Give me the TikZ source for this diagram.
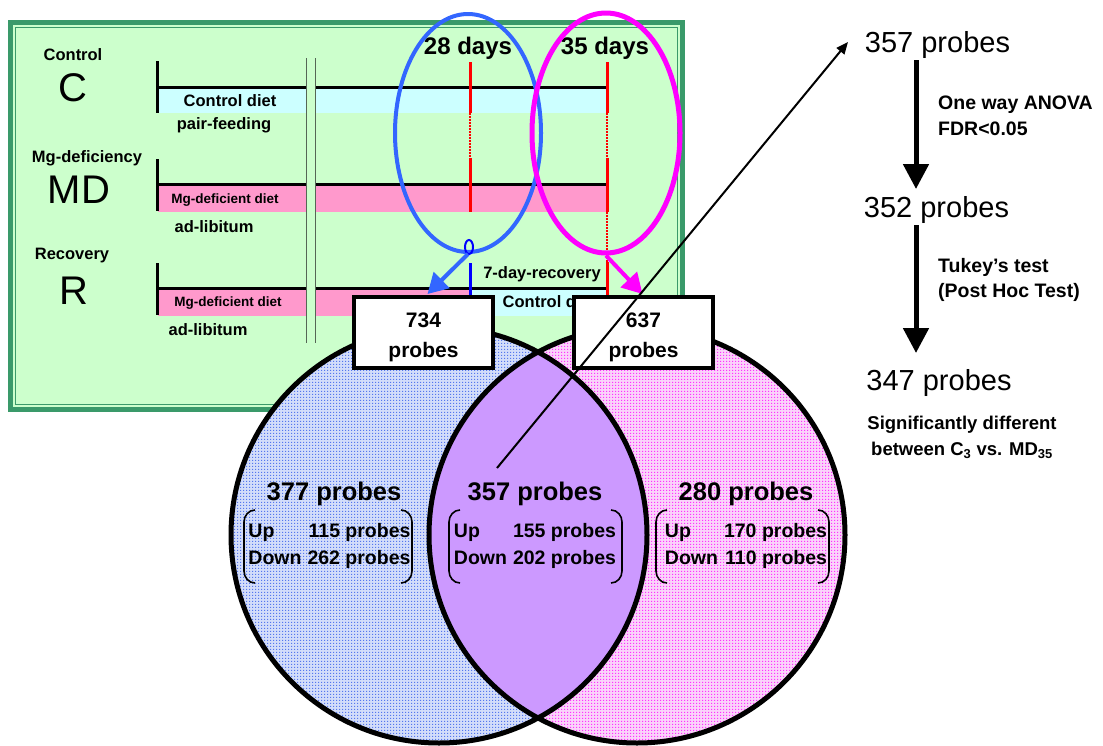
\documentclass[tikz,border=0pt]{standalone}
\usepackage{fontspec}
\setmainfont{Liberation Sans}
\usetikzlibrary{arrows.meta,shapes.geometric,patterns,calc}
\pgfdeclarepatternformonly{vdots}{\pgfpointorigin}{\pgfpoint{3pt}{3pt}}{\pgfpoint{3pt}{3pt}}{\pgfpathrectangle{\pgfpointorigin}{\pgfpoint{1.5pt}{1.5pt}}\pgfusepath{fill}}
\definecolor{gfill}{HTML}{CCFFCC}
\definecolor{gdark}{HTML}{3A9A6A}
\definecolor{cband}{HTML}{CCFFFF}
\definecolor{pband}{HTML}{FF99CC}
\definecolor{ebl}{HTML}{3366FF}
\definecolor{emg}{HTML}{FF00FF}
\definecolor{lensc}{HTML}{CC99FF}
\definecolor{vlbase}{HTML}{D3DDFA}
\definecolor{vldot}{HTML}{5577EE}
\definecolor{vrbase}{HTML}{FAD3FA}
\definecolor{vrdot}{HTML}{FF33FF}
\definecolor{dgray}{HTML}{556655}
\tikzset{
  lab/.style={font=\bfseries\fontsize{16.5}{19}\selectfont, inner sep=0pt},
  big/.style={font=\fontsize{40}{44}\selectfont, inner sep=0pt},
  diet/.style={font=\bfseries\fontsize{13.5}{15}\selectfont, inner sep=0pt},
  days/.style={font=\bfseries\fontsize{24}{26}\selectfont, inner sep=0pt},
  probebox/.style={draw, line width=4pt, fill=white, minimum width=139pt, minimum height=71pt, inner sep=0pt},
  boxtext/.style={align=center, inner sep=0pt, font=\bfseries\fontsize{21}{30}\selectfont},
  vtitle/.style={font=\bfseries\fontsize{25.5}{28}\selectfont, inner sep=0pt},
  vlist/.style={font=\bfseries\fontsize{19.5}{27}\selectfont, inner sep=0pt},
  rnum/.style={font=\fontsize{29}{32}\selectfont, inner sep=0pt},
  rlab/.style={font=\bfseries\fontsize{19.5}{25.5}\selectfont, inner sep=0pt, anchor=west, align=left},
  tl/.style={line width=3pt},
  redl/.style={red, line width=3pt},
  redd/.style={red, line width=1.5pt, dash pattern=on 1.5pt off 1.5pt},
  flow/.style={line width=5pt, -{Triangle[width=25pt,length=25pt]}},
  brk/.style={line width=1.6pt},
  oval/.style={ellipse, draw, inner sep=0pt},
}
\begin{document}
\begin{tikzpicture}[x=1pt,y=-1pt]
\useasboundingbox (0,0) rectangle (1103,745);
% green frame
\fill[gfill] (8,20) rectangle (685,412);
\draw[gdark, line width=5pt] (10.5,22.5) rectangle (682.5,409.5);
\draw[gdark, line width=1.5pt] (15.5,27.5) rectangle (677.5,404.5);
% row labels
\node[lab] (lc) at (73,55) {Control};
\node[big] (bc) at (73,88) {C};
\node[lab] (lmd) at (87,158) {Mg-deficiency};
\node[big] (bmd) at (79,190) {MD};
\node[lab] (lr) at (72,256) {Recovery};
\node[big] (br) at (74,291) {R};
% bands
\fill[cband] (158,88.5) rectangle (607,113);
\fill[pband] (158,186) rectangle (607,212);
\fill[pband] (158,290) rectangle (470,316);
\fill[cband] (470,290) rectangle (607,316);
% timelines
\draw[tl] (157,87.5) -- (607,87.5);
\draw[tl] (157,61) -- (157,113);
\draw[tl] (157,184.5) -- (607,184.5);
\draw[tl] (157,159) -- (157,211);
\draw[tl] (157,288.5) -- (607,288.5);
\draw[tl] (157,263) -- (157,315);
% break marks
\fill[gfill] (306.5,58) rectangle (315.5,343);
\draw[dgray, line width=1.5pt] (306.5,58) -- (306.5,343);
\draw[dgray, line width=1.5pt] (315.5,58) -- (315.5,343);
% red day marks
\draw[redl] (470,62) -- (470,113);
\draw[redd] (470,113) -- (470,158);
\draw[redl] (470,158) -- (470,212);
\draw[redl] (607,62) -- (607,113);
\draw[redd] (607,113) -- (607,158);
\draw[redl] (607,158) -- (607,212);
\draw[redd] (607,212) -- (607,262);
\draw[redl] (607,262) -- (607,300);
% diet texts
\node[lab] (cd1) at (230,101) {Control diet};
\node[lab] (pf) at (224,125) {pair-feeding};
\node[diet] (md1) at (225,200) {Mg-deficient diet};
\node[lab] (al1) at (214,227) {ad-libitum};
\node[diet] (md2) at (228,303) {Mg-deficient diet};
\node[lab] (al2) at (208,330) {ad-libitum};
\node[lab] (cd2) at (549,302) {Control diet};
\node[lab] (rec) at (542,274) {7-day-recovery};
\node[days] (d28) at (468,48) {28 days};
\node[days] (d35) at (605,48) {35 days};
% ellipses
\node[oval, ebl, line width=4pt, minimum width=146pt, minimum height=238pt] (e28) at (468,133) {};
\node[oval, emg, line width=5pt, minimum width=148pt, minimum height=240pt] (e35) at (606,133) {};
\draw[blue, line width=3pt] (470,263) -- (470,295);
\draw[blue, line width=2pt] (469,247) ellipse [x radius=4pt, y radius=7pt];
% venn
\fill[vlbase] (439,535) circle [radius=208pt];
\fill[pattern=vdots, pattern color=vldot] (439,535) circle [radius=208pt];
\fill[vrbase] (637,535) circle [radius=208pt];
\fill[pattern=vdots, pattern color=vrdot] (637,535) circle [radius=208pt];
\begin{scope}
\clip (439,535) circle [radius=208pt];
\fill[lensc] (637,535) circle [radius=208pt];
\end{scope}
\draw[line width=5pt] (439,535) circle [radius=208pt];
\draw[line width=5pt] (637,535) circle [radius=208pt];
% venn texts
\node[vtitle] (t377) at (334,494) {377 probes};
\node[vtitle] (t357) at (535,494) {357 probes};
\node[vtitle] (t280) at (746,494) {280 probes};
\node[vlist] (l377) at (329.5,546) {\begin{tabular}{@{}l@{\hspace{6pt}}r@{}}Up & 115 probes\\ Down & 262 probes\end{tabular}};
\node[vlist] (l357) at (535,546) {\begin{tabular}{@{}l@{\hspace{6pt}}r@{}}Up & 155 probes\\ Down & 202 probes\end{tabular}};
\node[vlist] (l280) at (746,546) {\begin{tabular}{@{}l@{\hspace{6pt}}r@{}}Up & 170 probes\\ Down & 110 probes\end{tabular}};
\foreach \a/\b in {244/412, 449/622, 656/829}{
  \draw[brk] (\a+11,510) to[out=180,in=90] (\a,522) -- (\a,571) to[out=-90,in=180] (\a+11,583);
  \draw[brk] (\b-11,510) to[out=0,in=90] (\b,522) -- (\b,571) to[out=-90,in=0] (\b-11,583);
}
% boxes
\node[probebox] (b734) at (423.5,332.5) {};
\node[boxtext] (x734) at (423.5,337) {734\\probes};
\node[probebox] (b637) at (643.5,332.5) {};
\node[boxtext] (x637) at (643.5,337) {637\\probes};
\draw[ebl, line width=4pt, -{Triangle[width=22pt,length=20pt]}] (e28.south) -- ($(b734.north)+(4,-1)$);
\draw[emg, line width=4pt, -{Triangle[width=22pt,length=20pt]}] (e35.south) -- ($(b637.north)+(-1,-1)$);
% right column
\node[rnum] (r357) at (937.5,45) {357 probes};
\node[rnum] (r352) at (936.5,210) {352 probes};
\node[rnum] (r347) at (939,383) {347 probes};
\node[rlab] (anova) at (938,116) {One way ANOVA\\FDR<0.05};
\node[rlab] (tukey) at (938,280) {Tukey’s test\\(Post Hoc Test)};
\node[font=\bfseries\fontsize{18.5}{26}\selectfont, inner sep=0pt, align=center] (sig) at (962,437) {Significantly different\\between C\textsubscript{3} vs. MD\textsubscript{35}};
\coordinate (a1s) at (916,60);
\coordinate (a1e) at (916,189);
\coordinate (a2s) at (916,225);
\coordinate (a2e) at (916,353);
\draw[flow] (a1s) -- (a1e);
\draw[flow] (a2s) -- (a2e);
% diagonal link
\coordinate (ds) at (497,468);
\coordinate (de) at (848,42);
\draw[line width=2pt, -{Triangle[length=12pt,width=10pt]}] (ds) -- (de);
\end{tikzpicture}
\end{document}
